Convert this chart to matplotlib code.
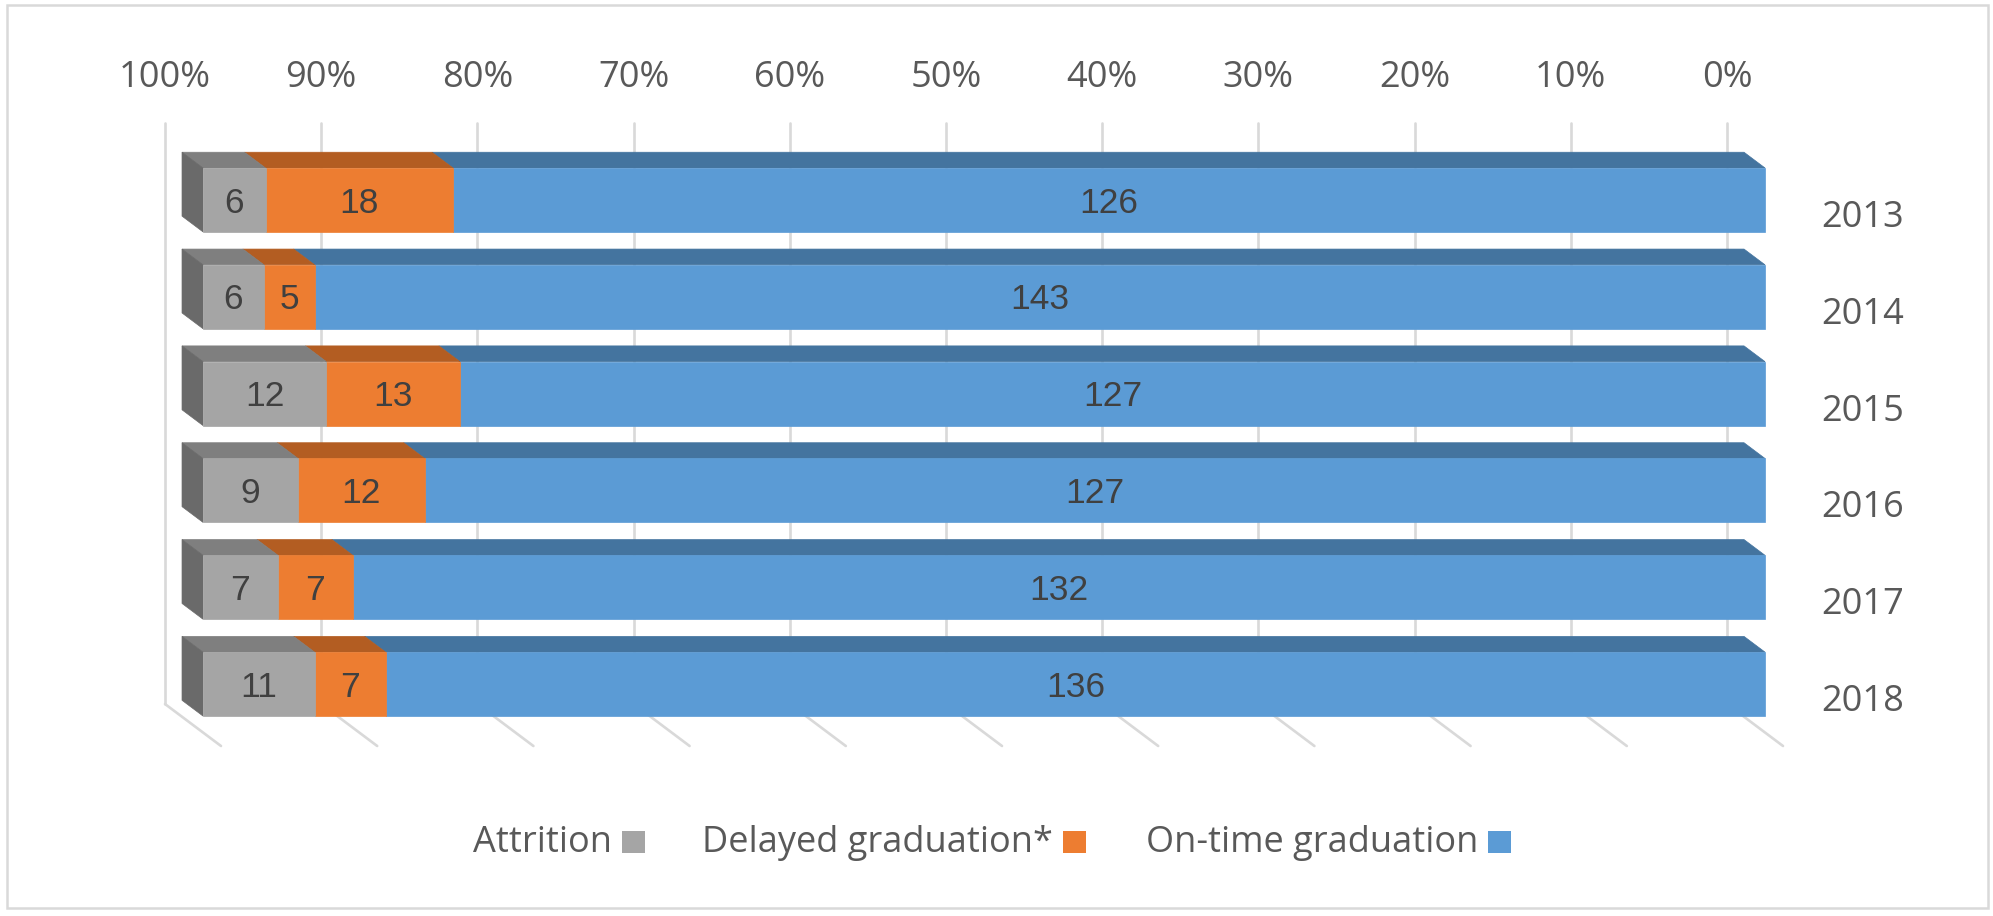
import matplotlib
matplotlib.use("Agg")
import matplotlib.pyplot as plt
from matplotlib.patches import Polygon, Rectangle

# ------------------------------------------------------------------
# Datos
# ------------------------------------------------------------------
years = ["2013", "2014", "2015", "2016", "2017", "2018"]
on_time = [126, 143, 127, 127, 132, 136]
delayed = [18, 5, 13, 12, 7, 7]
attrition = [6, 6, 12, 9, 7, 11]

ticks = list(range(0, 101, 10))
tick_labels = [f"{t}%" for t in ticks]

legend_names = ["On-time graduation", "Delayed graduation*", "Attrition"]

# colores: (frente, cara superior)
FRONT = ["#5B9BD5", "#ED7D31", "#A5A5A5"]
TOP = ["#44749F", "#B35D22", "#7F7F7F"]
SIDE = "#6A6A6A"
GRID = "#D9D9D9"
TXT = "#595959"
LBL = "#404040"

W, H = 1993, 916

fig = plt.figure(figsize=(W / 100, H / 100), dpi=100)
ax = fig.add_axes([165 / W, 1 - 704 / H, 1562 / W, 581 / H])
ax.set_xlim(100, 0)
ax.set_ylim(6, 0)
ax.axis("off")

# proyección oblicua: profundidad z (0 = pared, 1 = borde del piso)
PX_PCT = 1562 / 100
PX_CAT = 581 / 6
DX = 56 / PX_PCT
DY = 42 / PX_CAT
Z_BACK, Z_FRONT = 0.304, 0.679
HALF = 0.33


def proj(p, c, z):
    return (p - DX * z, c + DY * z)


# rejilla de la pared y del piso
for t in ticks:
    ax.plot([t, t], [0, 6], color=GRID, lw=1.9, solid_capstyle="round",
            zorder=1, clip_on=False)
    x1, y1 = proj(t, 6, 1)
    ax.plot([t, x1], [6, y1], color=GRID, lw=1.9, solid_capstyle="round",
            zorder=1, clip_on=False)
    ax.text(t, -0.372, f"{t}%", ha="center", va="baseline", fontsize=26,
            family="Open Sans", color=TXT, clip_on=False)

# barras apiladas al 100%
for i, year in enumerate(years):
    c = i + 0.5
    vals = [on_time[i], delayed[i], attrition[i]]
    total = sum(vals)
    start = 0.0
    for j, v in enumerate(vals):
        s = start
        e = start + 100.0 * v / total
        start = e
        front = [proj(s, c - HALF, Z_FRONT), proj(e, c - HALF, Z_FRONT),
                 proj(e, c + HALF, Z_FRONT), proj(s, c + HALF, Z_FRONT)]
        top = [proj(s, c - HALF, Z_FRONT), proj(e, c - HALF, Z_FRONT),
               proj(e, c - HALF, Z_BACK), proj(s, c - HALF, Z_BACK)]
        ax.add_patch(Polygon(top, closed=True, fc=TOP[j], ec=TOP[j], lw=0.5,
                             zorder=3, clip_on=False))
        ax.add_patch(Polygon(front, closed=True, fc=FRONT[j], ec=FRONT[j],
                             lw=0.5, zorder=4, clip_on=False))
        xm, ym = proj((s + e) / 2, c, Z_FRONT)
        ax.text(xm, ym + 12.7 / PX_CAT, str(v), ha="center", va="baseline",
                fontsize=25.5, family="Liberation Sans", color=LBL,
                zorder=6, clip_on=False)
    side = [proj(100, c - HALF, Z_FRONT), proj(100, c + HALF, Z_FRONT),
            proj(100, c + HALF, Z_BACK), proj(100, c - HALF, Z_BACK)]
    ax.add_patch(Polygon(side, closed=True, fc=SIDE, ec=SIDE, lw=0.5,
                         zorder=3, clip_on=False))
    ax.text(-136 / PX_PCT, c + 55.5 / PX_CAT, year, ha="center", va="baseline",
            fontsize=26, family="Open Sans", color=TXT, clip_on=False)

# leyenda (cuadro a la derecha del texto)
sq_left = [1488, 1063, 622]
for name, col, xl in zip(legend_names, FRONT, sq_left):
    fig.patches.append(Rectangle((xl / W, 1 - 853 / H), 23 / W, 22 / H,
                                 transform=fig.transFigure, fc=col, ec="none"))
    fig.text((xl - 10) / W, 1 - 852 / H, name, ha="right", va="baseline",
             fontsize=26, family="Open Sans", color=TXT)

# marco exterior
fig.patches.append(Rectangle((7 / W, 1 - 908 / H), 1981 / W, 903 / H,
                             transform=fig.transFigure, fill=False,
                             ec=GRID, lw=1.8))

fig.savefig("out.png", dpi=100)
